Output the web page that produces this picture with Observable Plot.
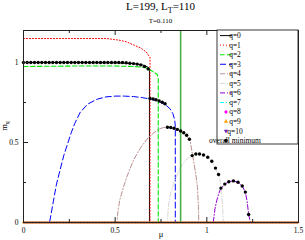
<!DOCTYPE html>
<html><head><meta charset="utf-8">
<script src="https://cdn.jsdelivr.net/npm/d3@7"></script>
<script src="https://cdn.jsdelivr.net/npm/@observablehq/plot@0.6"></script>
<style>body{margin:0;background:#fff;} #chart{width:305px;height:240px;}</style>
</head><body><div id="chart"></div>
<script>
// ---------- data ----------
const titleMain = "L=199, L", titleSub = "T", titleEnd = "=110";
const subtitle = "T=0.110";
const xLabel = "μ";
const xMajor = [0, 0.5, 1, 1.5];
const xMinor = [0.25, 0.75, 1.25];
const yMajor = [0, 0.5, 1];
const yMinor = [0.25, 0.75];
const markerMu = [0.857];

const q0Mu = [0, 0.3, 0.5, 0.6, 0.65, 0.68, 0.687, 0.687, 1.5];
const q0M  = [1.0, 1.0, 0.998, 0.993, 0.985, 0.97, 0.96, 0, 0];
const q1Mu = [0, 0.45, 0.52, 0.56, 0.6, 0.64, 0.67, 0.685, 0.69, 0.69, 1.5];
const q1M  = [1.15, 1.15, 1.14, 1.13, 1.11, 1.09, 1.065, 1.04, 1.03, 0, 0];
const q2Mu = [0, 0.3, 0.5, 0.6, 0.66, 0.69, 0.71, 0.73, 0.735, 0.735, 1.5];
const q2M  = [0.975, 0.978, 0.978, 0.975, 0.97, 0.955, 0.94, 0.925, 0.9, 0, 0];
const q3Mu = [0, 0.142, 0.15, 0.164, 0.18, 0.2, 0.22, 0.24, 0.26, 0.28, 0.31, 0.35, 0.4, 0.45, 0.5, 0.55, 0.6, 0.65, 0.7, 0.75, 0.78, 0.8, 0.815, 0.825, 0.828, 0.828, 1.5];
const q3M  = [0, 0, 0.05, 0.14, 0.24, 0.33, 0.42, 0.49, 0.56, 0.62, 0.69, 0.74, 0.77, 0.785, 0.79, 0.79, 0.787, 0.78, 0.77, 0.75, 0.73, 0.71, 0.68, 0.64, 0.6, 0, 0];
const q4Mu = [0, 0.51, 0.515, 0.525, 0.545, 0.565, 0.6, 0.64, 0.68, 0.71, 0.74, 0.765, 0.785, 0.805, 0.825, 0.845, 0.862, 0.88, 0.895, 0.91, 0.927, 0.94, 0.949, 0.954, 0.956, 1.5];
const q4M  = [0, 0, 0.07, 0.14, 0.22, 0.29, 0.39, 0.47, 0.53, 0.56, 0.585, 0.594, 0.596, 0.593, 0.585, 0.575, 0.564, 0.55, 0.535, 0.505, 0.39, 0.3, 0.22, 0.1, 0, 0];
const q5Mu = [0, 0.785, 0.79, 0.8, 0.82, 0.85, 0.88, 0.915, 0.938, 0.96, 0.982, 1.005, 1.027, 1.047, 1.064, 1.075, 1.083, 1.088, 1.09, 1.5];
const q5M  = [0, 0, 0.1, 0.17, 0.25, 0.33, 0.385, 0.418, 0.428, 0.428, 0.422, 0.408, 0.383, 0.34, 0.3, 0.25, 0.15, 0.05, 0, 0];
const q6Mu = [0, 1.035, 1.045, 1.055, 1.065, 1.075, 1.098, 1.12, 1.145, 1.17, 1.193, 1.21, 1.22, 1.228, 1.238, 1.5];
const q6M  = [0, 0, 0.09, 0.14, 0.18, 0.21, 0.24, 0.255, 0.26, 0.252, 0.228, 0.19, 0.13, 0.05, 0, 0];
const q7Mu = [0, 1.5], q7M = [0, 0];
const q8Mu = [0, 1.5], q8M = [0, 0];
const q9Mu = [0, 1.5], q9M = [0, 0];
const q10Mu = [0, 1.5], q10M = [0, 0];

const minMu = [0, 0.02, 0.04, 0.06, 0.08, 0.1, 0.12, 0.14, 0.16, 0.18, 0.2, 0.22, 0.24, 0.26, 0.28, 0.3, 0.32, 0.34, 0.36, 0.38, 0.4, 0.42, 0.44, 0.46, 0.48, 0.5, 0.52, 0.54, 0.56, 0.58, 0.6, 0.62, 0.64, 0.66, 0.68,
  0.69, 0.707, 0.723, 0.74, 0.757, 0.772,
  0.785, 0.803, 0.821, 0.839, 0.857, 0.874, 0.89, 0.905,
  0.92, 0.94, 0.96, 0.982, 1.005, 1.027, 1.047, 1.064,
  1.077, 1.098, 1.12, 1.145, 1.17, 1.193, 1.21, 1.228];
const minM = [1, 1, 1, 1, 1, 1, 1, 1, 1, 1, 1, 1, 1, 1, 1, 1, 1, 1, 1, 1, 1, 1, 1, 1, 1, 1, 1, 1, 0.998, 0.995, 0.993, 0.99, 0.985, 0.975, 0.96,
  0.775, 0.772, 0.767, 0.76, 0.752, 0.742,
  0.595, 0.594, 0.589, 0.582, 0.572, 0.561, 0.545, 0.52,
  0.418, 0.428, 0.428, 0.422, 0.408, 0.383, 0.34, 0.3,
  0.215, 0.24, 0.255, 0.26, 0.252, 0.228, 0.19, 0.05];

const seriesNames = ["q=0","q=1","q=2","q=3","q=4","q=5","q=6","q=7","q=8","q=9","q=10"];
const seriesMu = [q0Mu,q1Mu,q2Mu,q3Mu,q4Mu,q5Mu,q6Mu,q7Mu,q8Mu,q9Mu,q10Mu];
const seriesM  = [q0M,q1M,q2M,q3M,q4M,q5M,q6M,q7M,q8M,q9M,q10M];
const overallName = "overall minimum";

// ---------- styles ----------
const styles = [
  {stroke:"#000000", dash:null, w:1, sym:null},
  {stroke:"#ff0000", dash:"1,2", w:1, sym:null},
  {stroke:"#00e600", dash:"4.5,2.5", w:1.1, sym:null},
  {stroke:"#0000ff", dash:"6,3", w:1, sym:null},
  {stroke:"#bc8f8f", dash:"5,2,1,2", w:1, sym:null},
  {stroke:"#d8d8d8", dash:"5,2,1,2", w:1, sym:null},
  {stroke:"#9400d3", dash:"5,2,1,2", w:1, sym:null},
  {stroke:"#00ffff", dash:"4,2,1,2,1,2", w:1, sym:null},
  {stroke:"#ff00ff", dash:"1,3", w:1, sym:"circle"},
  {stroke:"#ffa500", dash:"1,2", w:2.4, sym:"triangle"},
  {stroke:"#7221bc", dash:null, w:1.4, sym:"triangle2"}
];

const rows = seriesMu.map((mus, i) => mus.map((mu, j) => ({mu, m: seriesM[i][j]})));
const overall = minMu.map((mu, j) => ({mu, m: minM[j]}));

const W = 305, H = 240, mL = 23, mR = 7, mT = 30, mB = 18;
const fw = W - mL - mR, fh = H - mT - mB;
const font = "'Liberation Serif','DejaVu Serif',serif";

const lineMarks = rows.map((data, i) => Plot.line(data, {
  x: "mu", y: "m", stroke: styles[i].stroke, strokeWidth: styles[i].w,
  strokeDasharray: styles[i].dash || undefined, curve: "linear"
}));

const plot = Plot.plot({
  width: W, height: H, marginLeft: mL, marginRight: mR, marginTop: mT, marginBottom: mB,
  x: {domain: [0, 1.5]}, y: {domain: [0, 1.2]},
  style: {fontFamily: font, fontSize: "7.5px", background: "white", color: "black", overflow: "visible"},
  marks: [
    ...lineMarks,
    Plot.ruleX(markerMu, {x: d => d, stroke: "#4cae4c", strokeWidth: 1.6}),
    Plot.dot(overall, {x: "mu", y: "m", r: 1.7, fill: "black", stroke: "none"}),
    Plot.frame({stroke: "#222", strokeWidth: 1}),
    Plot.tickX(xMajor, {x: d => d, insetTop: fh - 5, stroke: "#222"}),
    Plot.tickX(xMajor, {x: d => d, insetBottom: fh - 5, stroke: "#222"}),
    Plot.tickX(xMinor, {x: d => d, insetTop: fh - 3, stroke: "#222"}),
    Plot.tickX(xMinor, {x: d => d, insetBottom: fh - 3, stroke: "#222"}),
    Plot.tickY(yMajor, {y: d => d, insetRight: fw - 5, stroke: "#222"}),
    Plot.tickY(yMajor, {y: d => d, insetLeft: fw - 5, stroke: "#222"}),
    Plot.tickY(yMinor, {y: d => d, insetRight: fw - 3, stroke: "#222"}),
    Plot.tickY(yMinor, {y: d => d, insetLeft: fw - 3, stroke: "#222"}),
    Plot.axisX({ticks: xMajor, tickSize: 0, tickPadding: 5, tickFormat: d => String(d), label: null}),
    Plot.axisY({ticks: yMajor, tickSize: 0, tickPadding: 5, tickFormat: d => String(d), label: null}),
    Plot.text([xLabel], {frameAnchor: "bottom", dy: 14, fontSize: 8.5})
  ]
});
document.getElementById("chart").appendChild(plot);

const svg = d3.select(plot);
// title
const t = svg.append("text").attr("x", mL + fw / 2).attr("y", 10).attr("text-anchor", "middle")
  .attr("font-family", font).attr("font-size", 11).attr("fill", "black");
t.append("tspan").text(titleMain);
t.append("tspan").attr("dy", 2.5).attr("font-size", 8).text(titleSub);
t.append("tspan").attr("dy", -2.5).text(titleEnd);
svg.append("text").attr("x", mL + fw / 2).attr("y", 23).attr("text-anchor", "middle")
  .attr("font-family", font).attr("font-size", 7).attr("fill", "black").text(subtitle);
// y label
const yl = svg.append("text").attr("transform", `translate(7,${mT + fh / 2}) rotate(-90)`)
  .attr("text-anchor", "middle").attr("font-family", font).attr("font-size", 8.5).attr("fill", "black");
yl.append("tspan").text("m");
yl.append("tspan").attr("dy", 2).attr("font-size", 6).text("q");

// legend
const lx = 217, ly = mT, lw = W - mR - lx, lh = 114, step = 9.55, y0 = 35.6;
const lg = svg.append("g");
lg.append("rect").attr("x", lx).attr("y", ly).attr("width", lw).attr("height", lh)
  .attr("fill", "white").attr("stroke", "#222").attr("stroke-width", 0.9);
const items = seriesNames.map((n, i) => ({label: n, s: styles[i]})).concat([{label: overallName, s: {sym: "dot"}}]);
items.forEach((it, i) => {
  const yc = y0 + i * step, s = it.s;
  if (s.sym === null) {
    lg.append("line").attr("x1", 220).attr("x2", 232).attr("y1", yc).attr("y2", yc)
      .attr("stroke", s.stroke).attr("stroke-width", Math.min(s.w, 1.2)).attr("stroke-dasharray", s.dash);
  } else if (s.sym === "circle") {
    lg.append("circle").attr("cx", 226).attr("cy", yc).attr("r", 1.4).attr("fill", s.stroke);
    lg.append("path").attr("d", `M224,${yc}h4M226,${yc-2}v4`).attr("stroke", s.stroke).attr("stroke-width", 0.6);
  } else if (s.sym === "triangle") {
    lg.append("path").attr("d", d3.symbol(d3.symbolTriangle, 8)()).attr("transform", `translate(226,${yc})`).attr("fill", s.stroke);
  } else if (s.sym === "triangle2") {
    lg.append("path").attr("d", d3.symbol(d3.symbolTriangle, 8)()).attr("transform", `translate(226,${yc}) rotate(180)`).attr("fill", s.stroke);
  } else {
    lg.append("circle").attr("cx", 226).attr("cy", yc).attr("r", 1.8).attr("fill", "black");
  }
  lg.append("text").attr("x", 235).attr("y", yc).attr("dy", "0.33em").attr("font-family", font)
    .attr("font-size", 7.5).attr("fill", "black").text(it.label);
});
</script></body></html>
